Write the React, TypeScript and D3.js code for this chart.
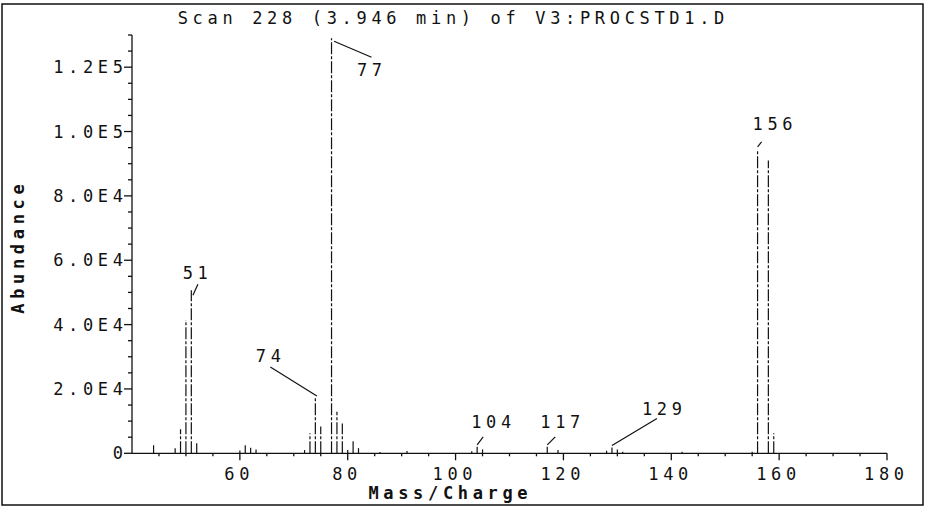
import React from "react";
import * as d3 from "d3";

// Mass spectrum, scan 228
const title = "Scan 228 (3.946 min) of V3:PROCSTD1.D";
const xTitle = "Mass/Charge";
const yTitle = "Abundance";

const masses = [44, 48, 49, 50, 51, 52, 60, 61, 62, 63, 72, 73, 74, 75, 77, 78, 79, 80, 81, 82, 86, 91, 103, 104, 105, 117, 119, 128, 129, 130, 131, 142, 155, 156, 158, 159];
const abundances = [2500, 1600, 7500, 41400, 50700, 3100, 900, 2500, 1700, 1200, 1000, 6200, 17500, 8300, 129000, 12900, 9300, 1000, 4100, 1600, 400, 700, 600, 2000, 1200, 2000, 1000, 800, 1800, 1200, 500, 500, 500, 94000, 91000, 6200];

const labelledMasses = [51, 74, 77, 104, 117, 129, 156];

const xTicks = [60, 80, 100, 120, 140, 160, 180];
const yTicks = [0, 20000, 40000, 60000, 80000, 100000, 120000];
const yTickLabels = ["0", "2.0E4", "4.0E4", "6.0E4", "8.0E4", "1.0E5", "1.2E5"];

const W = 925;
const H = 507;
const FONT = "'DejaVu Sans Mono', 'Liberation Mono', monospace";
const PITCH = 14.9;
const GLYPH = 10.2;

// label placement relative to the peak top: label centre, leader start/end
const labelLayout: Record<number, { lx: number; ly: number; a: [number, number]; b: [number, number] }> = {
  51: { lx: 4, ly: -17, a: [6.6, -6], b: [1.6, 5] },
  74: { lx: -47, ly: -41, a: [-45, -30], b: [1.5, -1] },
  77: { lx: 38, ly: 32, a: [2.5, 3], b: [40, 19] },
  104: { lx: 14, ly: -25, a: [6, -10], b: [0, -2] },
  117: { lx: 13, ly: -25, a: [8, -10], b: [0, -2] },
  129: { lx: 50, ly: -39, a: [45, -29], b: [0, -2] },
  156: { lx: 15, ly: -27, a: [4, -9], b: [0, -4] },
};

function PlotText({ text, x, y, anchor = "middle", size = 17, weight = 400, rotate = 0 }: { text: string; x: number; y: number; anchor?: "start" | "middle" | "end"; size?: number; weight?: number; rotate?: number }) {
  const width = (text.length - 1) * PITCH + GLYPH;
  const x0 = anchor === "start" ? x : anchor === "middle" ? x - width / 2 : x - width;
  const t = (
    <text
      x={rotate ? -width / 2 : x0}
      y={rotate ? 0 : y}
      fontFamily={FONT}
      fontSize={size}
      fontWeight={weight}
      textLength={width}
      lengthAdjust="spacing"
      dominantBaseline="central"
      fill="#111"
    >
      {text}
    </text>
  );
  if (rotate) {
    return <g transform={`translate(${x},${y}) rotate(${rotate})`}>{t}</g>;
  }
  return t;
}

export default function App() {
  const x = d3.scaleLinear().domain([40, 180]).range([132, 887]);
  const y = d3.scaleLinear().domain([0, 130000]).range([453.3, 35]);

  const minorX = d3.range(45, 181, 5).filter((v) => v % 20 !== 0);
  const minorY = d3.range(5000, 130001, 5000).filter((v) => v % 20000 !== 0);

  const peaks = masses.map((m, i) => ({ m, v: abundances[i] }));

  return (
    <svg width={W} height={H} style={{ position: "absolute", left: 0, top: 0, display: "block", background: "#fff" }}>
      <rect x={2} y={4} width={921} height={501} fill="none" stroke="#111" strokeWidth={1.5} />

      <PlotText text={title} x={451} y={18} />

      {/* axes */}
      <g stroke="#111" strokeWidth={1.3}>
        <line x1={x(40)} x2={x(40)} y1={y(0)} y2={y(130000)} />
        <line x1={x(40)} x2={x(180)} y1={y(0)} y2={y(0)} />
        {yTicks.map((t) => (
          <line key={"yt" + t} x1={x(40) - 8} x2={x(40)} y1={y(t)} y2={y(t)} />
        ))}
        {minorY.map((t) => (
          <line key={"ym" + t} x1={x(40) - 4} x2={x(40)} y1={y(t)} y2={y(t)} />
        ))}
        {xTicks.map((t) => (
          <line key={"xt" + t} x1={x(t)} x2={x(t)} y1={y(0)} y2={y(0) + 7} />
        ))}
        {minorX.map((t) => (
          <line key={"xm" + t} x1={x(t)} x2={x(t)} y1={y(0)} y2={y(0) + 3} />
        ))}
      </g>

      {yTicks.map((t, i) => (
        <PlotText key={"yl" + t} text={yTickLabels[i]} x={123} y={y(t)} anchor="end" />
      ))}
      {xTicks.map((t) => (
        <PlotText key={"xl" + t} text={String(t)} x={x(t) - 3} y={474} />
      ))}

      <PlotText text={xTitle} x={448} y={493} weight={700} />
      <PlotText text={yTitle} x={18} y={249} weight={700} rotate={-90} />

      {/* peaks, pen-plotter stroke */}
      <g stroke="#111" strokeWidth={1.2} strokeDasharray="12 2 3 2">
        {peaks.map((p) => (
          <line key={"p" + p.m} x1={x(p.m)} x2={x(p.m)} y1={y(0)} y2={y(p.v)} />
        ))}
      </g>

      {/* peak labels */}
      {labelledMasses.map((m) => {
        const v = abundances[masses.indexOf(m)];
        const px = x(m);
        const py = y(v);
        const L = labelLayout[m];
        return (
          <g key={"lab" + m}>
            <line x1={px + L.a[0]} y1={py + L.a[1]} x2={px + L.b[0]} y2={py + L.b[1]} stroke="#111" strokeWidth={1.2} />
            <PlotText text={String(m)} x={px + L.lx} y={py + L.ly} />
          </g>
        );
      })}
    </svg>
  );
}
